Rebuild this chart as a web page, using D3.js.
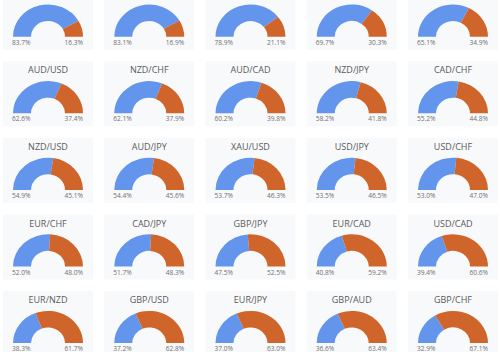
<!DOCTYPE html>
<html><head><meta charset="utf-8">
<script src="https://cdn.jsdelivr.net/npm/d3@7"></script>
<style>
html,body{margin:0;padding:0;background:#fff;}
svg{display:block;}
</style></head>
<body>
<script>
const pairs = ["", "", "", "", "",
  "AUD/USD","NZD/CHF","AUD/CAD","NZD/JPY","CAD/CHF",
  "NZD/USD","AUD/JPY","XAU/USD","USD/JPY","USD/CHF",
  "EUR/CHF","CAD/JPY","GBP/JPY","EUR/CAD","USD/CAD",
  "EUR/NZD","GBP/USD","EUR/JPY","GBP/AUD","GBP/CHF"];
const longPct = [83.7,83.1,78.9,69.7,65.1,
  62.6,62.1,60.2,58.2,55.2,
  54.9,54.4,53.7,53.5,53.0,
  52.0,51.7,47.5,40.8,39.4,
  38.3,37.2,37.0,36.6,32.9];
const shortPct = [16.3,16.9,21.1,30.3,34.9,
  37.4,37.9,39.8,41.8,44.8,
  45.1,45.6,46.3,46.5,47.0,
  48.0,48.3,52.5,59.2,60.6,
  61.7,62.8,63.0,63.4,67.1];
const colors = ["#6495ED", "#D0652B"];

const W = 500, H = 352;
const svg = d3.select("body").append("svg").attr("width", W).attr("height", H);

const cols = 5;
const xPos = d3.scaleLinear().domain([0, 4]).range([48, 453]);
const yBase = d3.scaleLinear().domain([0, 4]).range([36.7, 343.1]);
const R = 35, r0 = 17, sy = 0.92;
const angle = d3.scaleLinear().domain([0, 100]).range([-Math.PI/2, Math.PI/2]);
const arc = d3.arc().innerRadius(r0).outerRadius(R);

const data = pairs.map((p, i) => ({name: p, a: longPct[i], b: shortPct[i], c: i % cols, r: Math.floor(i / cols)}));

const g = svg.selectAll("g.card").data(data).enter().append("g")
  .attr("class", "card")
  .attr("transform", d => `translate(${xPos(d.c)},${yBase(d.r)})`);

g.append("rect").attr("x", -45).attr("y", -52).attr("width", 90).attr("height", 65)
  .attr("fill", "#f8f9fb");

g.append("text").attr("x", 0).attr("y", -40)
  .attr("text-anchor", "middle")
  .attr("font-family", "Open Sans")
  .attr("font-size", 9).attr("fill", "#5a5a5a")
  .text(d => d.name);

const gauge = g.append("g").attr("transform", `scale(1,${sy})`);
gauge.append("path")
  .attr("d", d => arc({startAngle: angle(0), endAngle: angle(d.a)}))
  .attr("fill", colors[0]);
gauge.append("path")
  .attr("d", d => arc({startAngle: angle(d.a), endAngle: angle(100)}))
  .attr("fill", colors[1]);

g.append("text").attr("x", -R - 1).attr("y", 8)
  .attr("font-family", "Open Sans").attr("font-size", 6.6).attr("fill", "#707070")
  .text(d => d.a.toFixed(1) + "%");
g.append("text").attr("x", R).attr("y", 8).attr("text-anchor", "end")
  .attr("font-family", "Open Sans").attr("font-size", 6.6).attr("fill", "#707070")
  .text(d => d.b.toFixed(1) + "%");
</script>
</body></html>
